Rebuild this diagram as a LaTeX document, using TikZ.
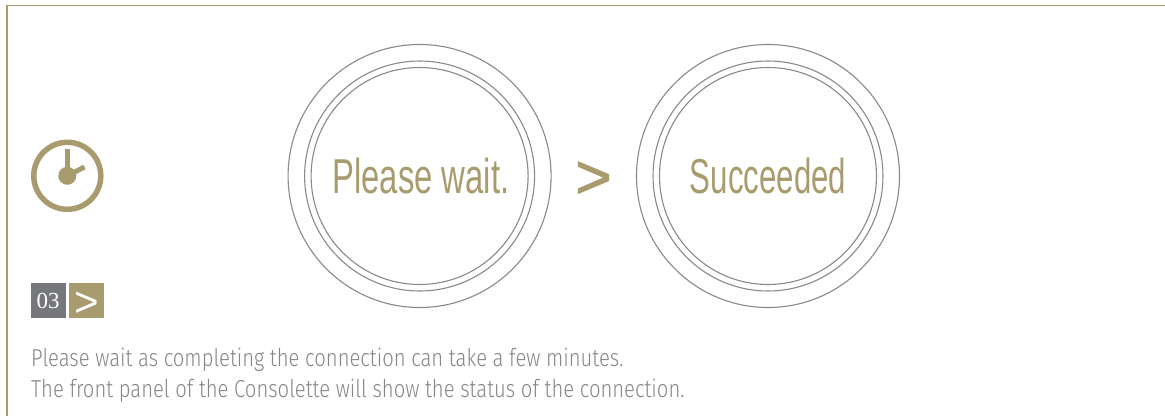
\documentclass[tikz,border=0pt]{standalone}
\usepackage{fontspec}
\setmainfont{Liberation Sans}
\newfontfamily\lcdfont[FakeStretch=0.67]{Liberation Sans}
\newfontfamily\lcdnarrow[FakeStretch=0.637]{Liberation Sans}
\newfontfamily\chevfont[FakeBold=1.5]{Liberation Sans}
\newfontfamily\notefont[FakeStretch=0.826]{Fira Sans Light}
\newfontfamily\stepfont{Liberation Serif}
\definecolor{gold}{HTML}{A89B6E}
\definecolor{slate}{HTML}{76777B}
\definecolor{rimgray}{HTML}{88898C}
\definecolor{notegray}{HTML}{85868A}
\begin{document}
\begin{tikzpicture}[x=1pt,y=-1pt,
  rim/.style={circle,draw=rimgray,line width=1.1pt,inner sep=0pt},
  lcd/.style={text=gold,inner sep=0pt,anchor=base},
  chev/.style={inner sep=0pt,anchor=base},
  tag/.style={minimum size=35pt,inner sep=0pt,text=white},
  note/.style={text=notegray,inner sep=0pt,anchor=base west,font=\notefont\fontsize{24.5}{24.5}\selectfont}]
\useasboundingbox (0,0) rectangle (1165,416);
\draw[gold,line width=1.3pt] (1165,5.5) -- (7,5.5) -- (7,416);
\node[circle,draw=gold,line width=5.5pt,minimum size=67pt,inner sep=0pt] (clock) at (67.3,175.8) {};
\fill[gold] (clock.center) circle (9);
\draw[gold,line width=5pt] (clock.center) -- (67.3,149.3);
\draw[gold,line width=5pt] (clock.center) -- (84.5,167);
\node[tag,fill=slate,font=\stepfont\fontsize{23}{23}\selectfont] (num) at (48,300.5) {03};
\node[tag,fill=gold] (go) at (86.5,300.5) {};
\node[chev,text=white,font=\fontsize{42}{42}\selectfont] (goarrow) at (86.5,316) {>};
\node[rim,minimum size=263pt] (dialA) at (419.6,176) {};
\node[rim,minimum size=230pt] (ringA) at (419.6,176) {};
\node[rim,minimum size=217pt] (faceA) at (419.6,176) {};
\node[rim,minimum size=263pt] (dialB) at (768,176) {};
\node[rim,minimum size=230pt] (ringB) at (768,176) {};
\node[rim,minimum size=217pt] (faceB) at (768,176) {};
\node[lcd,font=\lcdfont\fontsize{49}{49}\selectfont] (wait) at (421,193) {Please wait.};
\node[lcd,font=\lcdnarrow\fontsize{49}{49}\selectfont] (done) at (768,193) {Succeeded};
\node[chev,text=gold,font=\chevfont\fontsize{62}{62}\selectfont] (next) at (593.5,198) {>};
\node[note] (line1) at (31,366) {Please wait as completing the connection can take a few minutes.};
\node[note] (line2) at (31,397) {The front panel of the Consolette will show the status of the connection.};
\end{tikzpicture}
\end{document}
